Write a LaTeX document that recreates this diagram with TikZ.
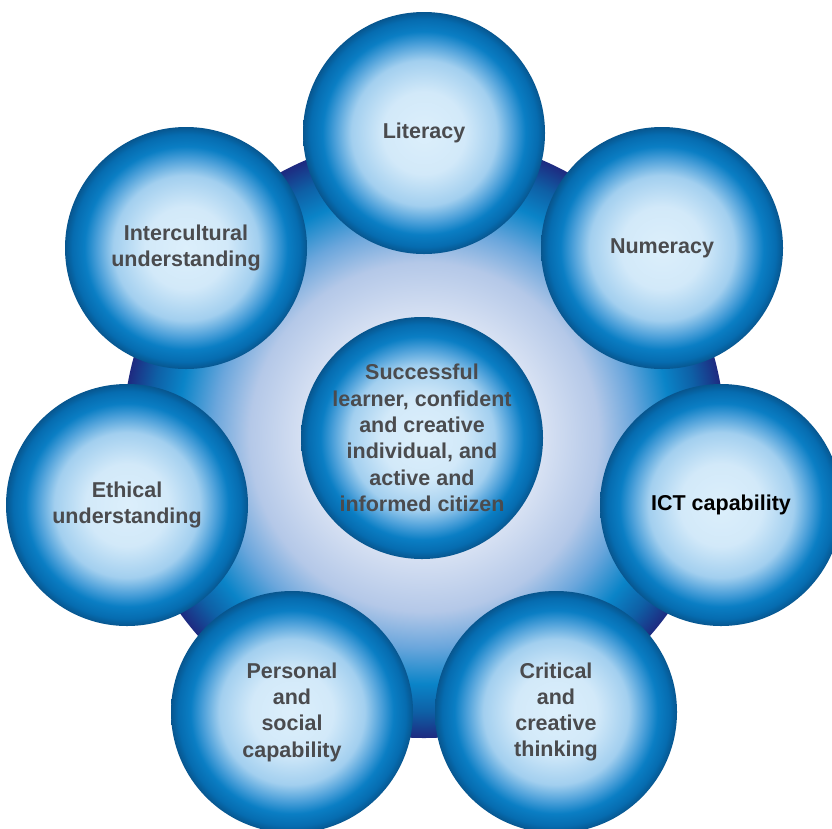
\documentclass[tikz,border=0pt]{standalone}
\usepackage{fontspec}
\setmainfont{Liberation Sans}
\definecolor{txt}{HTML}{4A4B4E}
\definecolor{bA}{HTML}{DCEFFB}
\definecolor{bB}{HTML}{D2E9F9}
\definecolor{bC}{HTML}{A2CFEF}
\definecolor{bD}{HTML}{4A9FD9}
\definecolor{bE}{HTML}{0A7EC4}
\definecolor{bF}{HTML}{066CB0}
\definecolor{bG}{HTML}{07568F}
\definecolor{gA}{HTML}{F2F4FB}
\definecolor{gB}{HTML}{DEE6F5}
\definecolor{gC}{HTML}{B4C8E8}
\definecolor{gD}{HTML}{6AA6DC}
\definecolor{gE}{HTML}{0A84C8}
\definecolor{gF}{HTML}{0E60A6}
\definecolor{gG}{HTML}{1E2A80}
\pgfdeclareradialshading{ballshade}{\pgfpoint{0bp}{0bp}}{color(0bp)=(bA); color(8.5bp)=(bB); color(15bp)=(bC); color(18.5bp)=(bD); color(21bp)=(bE); color(23.5bp)=(bF); color(25bp)=(bG); color(50bp)=(bG)}
\pgfdeclareradialshading{bigshade}{\pgfpoint{0bp}{0bp}}{color(0bp)=(gA); color(9bp)=(gB); color(14.5bp)=(gC); color(17.5bp)=(gD); color(20.5bp)=(gE); color(22.8bp)=(gF); color(25bp)=(gG); color(50bp)=(gG)}
\begin{document}
\begin{tikzpicture}[x=1pt,y=-1pt,
  ball/.style={circle, inner sep=0pt, minimum size=242pt, shading=ballshade, align=center,
    font=\fontsize{21.5}{26.3}\selectfont\bfseries, text=txt},
  bigball/.style={circle, inner sep=0pt, minimum size=602pt, shading=bigshade}]
\useasboundingbox (0,0) rectangle (832,828);
\clip (0,0) rectangle (832,828);
\node[bigball] (ring) at (424,437) {};
\node[ball] (center) at (422,438) {Successful\\learner, confident\\and creative\\individual, and\\active and\\informed citizen};
\node[ball] (lit) at (424,133) {Literacy};
\node[ball] (num) at (662,248) {Numeracy};
\node[ball, text=black] (ict) at (721,505) {ICT capability};
\node[ball] (crit) at (556,712) {Critical\\and\\creative\\thinking};
\node[ball] (pers) at (292,712) {Personal\\and\\social\\capability};
\node[ball] (eth) at (127,505) {Ethical\\understanding};
\node[ball] (inter) at (186,248) {Intercultural\\understanding};
\end{tikzpicture}
\end{document}
